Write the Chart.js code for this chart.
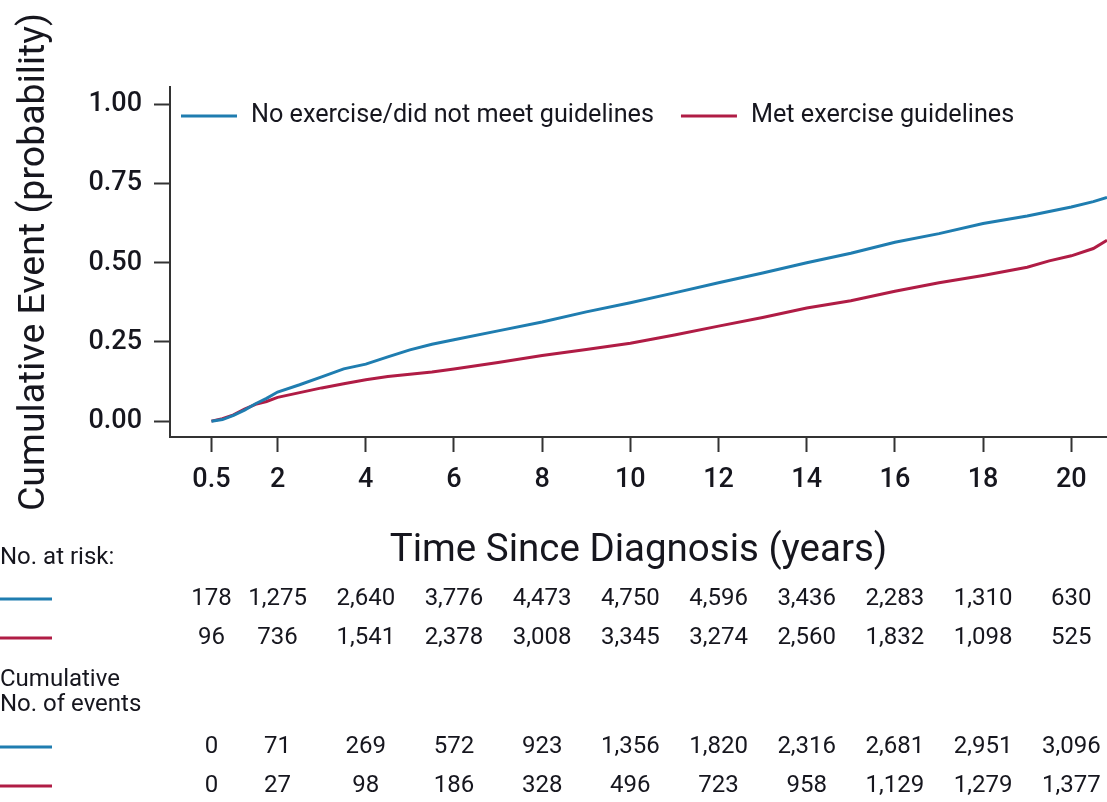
<!DOCTYPE html>
<html>
<head>
<meta charset="utf-8">
<title>Cumulative Event by Exercise Status</title>
<script src="https://cdn.jsdelivr.net/npm/chart.js@4.4.1/dist/chart.umd.min.js"></script>
<style>
  html, body { margin: 0; padding: 0; background: #ffffff; }
  #wrap { width: 1107px; height: 802px; position: relative; }
</style>
</head>
<body>
<div id="wrap"><canvas id="chart"></canvas></div>
<script>
// Time since diagnosis (years)
const times = [0.5, 0.75, 1, 1.25, 1.5, 1.75, 2, 2.5, 3, 3.5, 4, 4.5, 5, 5.5, 6, 7, 8, 9, 10,
               11, 12, 13, 14, 15, 16, 17, 18, 19, 19.5, 20, 20.5, 20.81];

// Cumulative event probability, no exercise / did not meet guidelines
const noExercise = [0.000, 0.005, 0.018, 0.035, 0.055, 0.072, 0.092, 0.115, 0.140, 0.165, 0.180,
                    0.203, 0.225, 0.243, 0.257, 0.285, 0.313, 0.345, 0.374, 0.405, 0.437, 0.468,
                    0.500, 0.530, 0.565, 0.592, 0.624, 0.648, 0.662, 0.676, 0.693, 0.706];

// Cumulative event probability, met exercise guidelines
const metGuidelines = [0.000, 0.008, 0.020, 0.038, 0.053, 0.062, 0.075, 0.090, 0.105, 0.118, 0.131,
                       0.141, 0.148, 0.155, 0.165, 0.185, 0.207, 0.226, 0.246, 0.272, 0.300, 0.327,
                       0.357, 0.380, 0.410, 0.437, 0.460, 0.486, 0.506, 0.522, 0.545, 0.571];

// Axis tick positions
const xTicks = [0.5, 2, 4, 6, 8, 10, 12, 14, 16, 18, 20];
const yTicks = [0, 0.25, 0.5, 0.75, 1];

// Risk table rows (one value per x tick)
const atRiskNoExercise = ['178', '1,275', '2,640', '3,776', '4,473', '4,750', '4,596', '3,436', '2,283', '1,310', '630'];
const atRiskMet        = ['96', '736', '1,541', '2,378', '3,008', '3,345', '3,274', '2,560', '1,832', '1,098', '525'];
const eventsNoExercise = ['0', '71', '269', '572', '923', '1,356', '1,820', '2,316', '2,681', '2,951', '3,096'];
const eventsMet        = ['0', '27', '98', '186', '328', '496', '723', '958', '1,129', '1,279', '1,377'];

const seriesLabels = ['No exercise/did not meet guidelines', 'Met exercise guidelines'];
const BLUE = '#1f7db0';
const RED = '#b01c45';
const INK = '#16161e';
const AXIS = '#333333';
const FONT = 'Roboto, "Liberation Sans", sans-serif';

const toPoints = (ys) => times.map((t, i) => ({ x: t, y: ys[i] }));

// Legend drawn inside the plot area, top-left
const insideLegend = {
  id: 'insideLegend',
  afterDatasetsDraw(chart) {
    const { ctx, chartArea } = chart;
    ctx.save();
    ctx.font = '25.2px ' + FONT;
    ctx.textBaseline = 'middle';
    ctx.textAlign = 'left';
    let x = chartArea.left + 11;
    const y = chartArea.top + 29;
    chart.data.datasets.forEach((ds) => {
      ctx.strokeStyle = ds.borderColor;
      ctx.lineWidth = 3;
      ctx.beginPath();
      ctx.moveTo(x, y);
      ctx.lineTo(x + 56, y);
      ctx.stroke();
      ctx.fillStyle = INK;
      ctx.fillText(ds.label, x + 70, y);
      x += 70 + ctx.measureText(ds.label).width + 27;
    });
    ctx.restore();
  }
};

// Number-at-risk and cumulative-events table under the x axis
const riskTable = {
  id: 'riskTable',
  afterDraw(chart) {
    const { ctx } = chart;
    const xs = chart.scales.x;
    ctx.save();
    ctx.fillStyle = INK;
    ctx.textBaseline = 'middle';

    ctx.font = '24px ' + FONT;
    ctx.textAlign = 'left';
    ctx.fillText('No. at risk:', 0, 558);
    ctx.fillText('Cumulative', 0, 680);
    ctx.fillText('No. of events', 0, 705);

    const rows = [
      { y: 599, color: BLUE, values: atRiskNoExercise },
      { y: 638, color: RED, values: atRiskMet },
      { y: 747, color: BLUE, values: eventsNoExercise },
      { y: 786, color: RED, values: eventsMet }
    ];
    ctx.font = '24px ' + FONT;
    ctx.textAlign = 'center';
    rows.forEach((row) => {
      ctx.strokeStyle = row.color;
      ctx.lineWidth = 3;
      ctx.beginPath();
      ctx.moveTo(0, row.y);
      ctx.lineTo(52, row.y);
      ctx.stroke();
      ctx.fillStyle = INK;
      row.values.forEach((v, i) => {
        ctx.fillText(v, xs.getPixelForValue(xTicks[i]), row.y);
      });
    });
    ctx.restore();
  }
};

new Chart(document.getElementById('chart'), {
  type: 'line',
  data: {
    datasets: [
      {
        label: seriesLabels[0],
        data: toPoints(noExercise),
        borderColor: BLUE,
        borderWidth: 3,
        pointRadius: 0,
        tension: 0,
        fill: false
      },
      {
        label: seriesLabels[1],
        data: toPoints(metGuidelines),
        borderColor: RED,
        borderWidth: 3,
        pointRadius: 0,
        tension: 0,
        fill: false
      }
    ]
  },
  options: {
    responsive: true,
    maintainAspectRatio: false,
    animation: false,
    layout: { padding: { top: 87, right: 0, bottom: 228, left: 0 } },
    plugins: {
      legend: { display: false },
      tooltip: { enabled: false }
    },
    scales: {
      x: {
        type: 'linear',
        min: -0.44,
        max: 20.81,
        afterBuildTicks: (scale) => { scale.ticks = xTicks.map((v) => ({ value: v })); },
        afterFit: (scale) => { scale.height = 137; },
        grid: {
          drawOnChartArea: false,
          drawTicks: true,
          tickLength: 15,
          tickWidth: 2,
          tickColor: AXIS
        },
        border: { display: true, color: AXIS, width: 2 },
        ticks: {
          color: INK,
          padding: 12,
          maxRotation: 0,
          autoSkip: false,
          font: { family: FONT, size: 27, weight: '500' },
          callback: (v) => String(v)
        },
        title: {
          display: true,
          text: 'Time Since Diagnosis (years)',
          color: INK,
          padding: { top: 0, bottom: 0 },
          font: { family: FONT, size: 38.5 }
        }
      },
      y: {
        type: 'linear',
        min: -0.05,
        max: 1.055,
        afterBuildTicks: (scale) => { scale.ticks = yTicks.map((v) => ({ value: v })); },
        afterFit: (scale) => { scale.width = 170; },
        grid: {
          drawOnChartArea: false,
          drawTicks: true,
          tickLength: 16,
          tickWidth: 2,
          tickColor: AXIS
        },
        border: { display: true, color: AXIS, width: 2 },
        ticks: {
          color: INK,
          padding: 12,
          font: { family: FONT, size: 27, weight: '500' },
          callback: (v) => Number(v).toFixed(2)
        },
        title: {
          display: true,
          text: 'Cumulative Event (probability)',
          color: INK,
          padding: { top: 12, bottom: 0 },
          font: { family: FONT, size: 37.5 }
        }
      }
    }
  },
  plugins: [insideLegend, riskTable]
});
</script>
</body>
</html>
